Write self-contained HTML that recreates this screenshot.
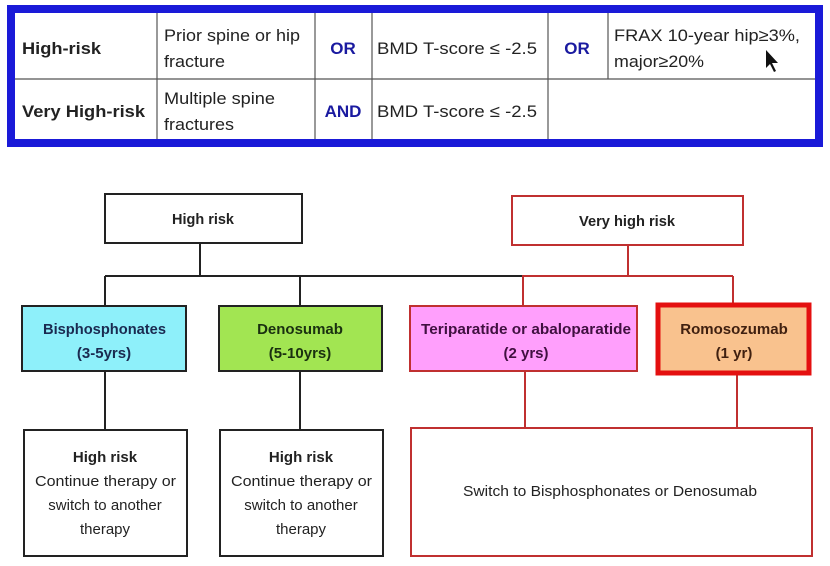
<!DOCTYPE html>
<html><head><meta charset="utf-8"><style>
body{margin:0;background:#fff;width:830px;height:566px;overflow:hidden}
svg{display:block}
.t{font-family:"Liberation Sans",sans-serif;font-size:17px;fill:#222}
.d{font-family:"Liberation Sans",sans-serif;font-size:15px;fill:#222}
</style></head><body>
<svg width="830" height="566" viewBox="0 0 830 566">
<rect x="11" y="9" width="808" height="134" fill="none" stroke="#1a1ad8" stroke-width="8"/>
<g stroke="#555" stroke-width="1.2">
<line x1="15" y1="79" x2="815" y2="79"/>
<line x1="157" y1="13" x2="157" y2="139"/>
<line x1="315" y1="13" x2="315" y2="139"/>
<line x1="372" y1="13" x2="372" y2="139"/>
<line x1="548" y1="13" x2="548" y2="139"/>
<line x1="608" y1="13" x2="608" y2="79"/>
</g>
<g lengthAdjust="spacingAndGlyphs">
<text class="t" x="22" y="54" font-weight="bold" textLength="79" lengthAdjust="spacingAndGlyphs">High-risk</text>
<text class="t" x="22" y="117" font-weight="bold" textLength="123" lengthAdjust="spacingAndGlyphs">Very High-risk</text>
<text class="t" x="164" y="41" textLength="136" lengthAdjust="spacingAndGlyphs">Prior spine or hip</text>
<text class="t" x="164" y="67" textLength="61" lengthAdjust="spacingAndGlyphs">fracture</text>
<text class="t" x="164" y="104" textLength="111" lengthAdjust="spacingAndGlyphs">Multiple spine</text>
<text class="t" x="164" y="130" textLength="70" lengthAdjust="spacingAndGlyphs">fractures</text>
<text class="t" x="343" y="54" text-anchor="middle" font-weight="bold" style="fill:#1a1aa0">OR</text>
<text class="t" x="343" y="117" text-anchor="middle" font-weight="bold" style="fill:#1a1aa0">AND</text>
<text class="t" x="377" y="54" textLength="160" lengthAdjust="spacingAndGlyphs">BMD T-score ≤ -2.5</text>
<text class="t" x="377" y="117" textLength="160" lengthAdjust="spacingAndGlyphs">BMD T-score ≤ -2.5</text>
<text class="t" x="577" y="54" text-anchor="middle" font-weight="bold" style="fill:#1a1aa0">OR</text>
<text class="t" x="614" y="41" textLength="186" lengthAdjust="spacingAndGlyphs">FRAX 10-year hip≥3%,</text>
<text class="t" x="614" y="67" textLength="90" lengthAdjust="spacingAndGlyphs">major≥20%</text>
</g>
<path d="M766 50 L766 68 L770 64 L774 72 L776 71 L772 63 L778 63 Z" fill="#111"/>

<g fill="none" stroke-width="2">
<path d="M200 243 V276 M105 276 H522 M105 276 V306 M300 276 V306" stroke="#222"/>
<path d="M522 276 H733 M628 245 V276 M523 276 V306 M733 276 V303" stroke="#c03030"/>
<path d="M105 371 V430 M300 371 V430" stroke="#222"/>
<path d="M525 371 V428 M737 375 V428" stroke="#c03030"/>
</g>
<rect x="105" y="194" width="197" height="49" fill="#fff" stroke="#222" stroke-width="2"/>
<rect x="512" y="196" width="231" height="49" fill="#fff" stroke="#c03030" stroke-width="2"/>
<rect x="22" y="306" width="164" height="65" fill="#8ef0fa" stroke="#222" stroke-width="2"/>
<rect x="219" y="306" width="163" height="65" fill="#a2e552" stroke="#222" stroke-width="2"/>
<rect x="410" y="306" width="227" height="65" fill="#ff9ffc" stroke="#c03030" stroke-width="2"/>
<rect x="658" y="305" width="151" height="68" fill="#f9c28e" stroke="#e41010" stroke-width="5"/>
<rect x="24" y="430" width="163" height="126" fill="#fff" stroke="#222" stroke-width="2"/>
<rect x="220" y="430" width="163" height="126" fill="#fff" stroke="#222" stroke-width="2"/>
<rect x="411" y="428" width="401" height="128" fill="#fff" stroke="#c03030" stroke-width="2"/>

<text class="d" x="172" y="224" font-weight="bold" textLength="62" lengthAdjust="spacingAndGlyphs">High risk</text>
<text class="d" x="579" y="226" font-weight="bold" textLength="96" lengthAdjust="spacingAndGlyphs">Very high risk</text>
<text class="d" x="43" y="334" font-weight="bold" style="fill:#1a2a50" textLength="123" lengthAdjust="spacingAndGlyphs">Bisphosphonates</text>
<text class="d" x="104" y="358" text-anchor="middle" font-weight="bold" style="fill:#1a2a50">(3-5yrs)</text>
<text class="d" x="300" y="334" text-anchor="middle" font-weight="bold" style="fill:#1a3010">Denosumab</text>
<text class="d" x="300" y="358" text-anchor="middle" font-weight="bold" style="fill:#1a3010">(5-10yrs)</text>
<text class="d" x="421" y="334" font-weight="bold" style="fill:#401040" textLength="210" lengthAdjust="spacingAndGlyphs">Teriparatide or abaloparatide</text>
<text class="d" x="526" y="358" text-anchor="middle" font-weight="bold" style="fill:#401040">(2 yrs)</text>
<text class="d" x="734" y="334" text-anchor="middle" font-weight="bold" style="fill:#402010">Romosozumab</text>
<text class="d" x="734" y="358" text-anchor="middle" font-weight="bold" style="fill:#402010">(1 yr)</text>
<text class="d" x="105" y="462" text-anchor="middle" font-weight="bold">High risk</text>
<text class="d" x="301" y="462" text-anchor="middle" font-weight="bold">High risk</text>

<text class="d" x="35" y="486" textLength="141" lengthAdjust="spacingAndGlyphs">Continue therapy or</text>
<text class="d" x="105" y="510" text-anchor="middle">switch to another</text>
<text class="d" x="105" y="534" text-anchor="middle">therapy</text>
<text class="d" x="231" y="486" textLength="141" lengthAdjust="spacingAndGlyphs">Continue therapy or</text>
<text class="d" x="301" y="510" text-anchor="middle">switch to another</text>
<text class="d" x="301" y="534" text-anchor="middle">therapy</text>
<text class="d" x="463" y="496" textLength="294" lengthAdjust="spacingAndGlyphs">Switch to Bisphosphonates or Denosumab</text>
</svg>
</body></html>
